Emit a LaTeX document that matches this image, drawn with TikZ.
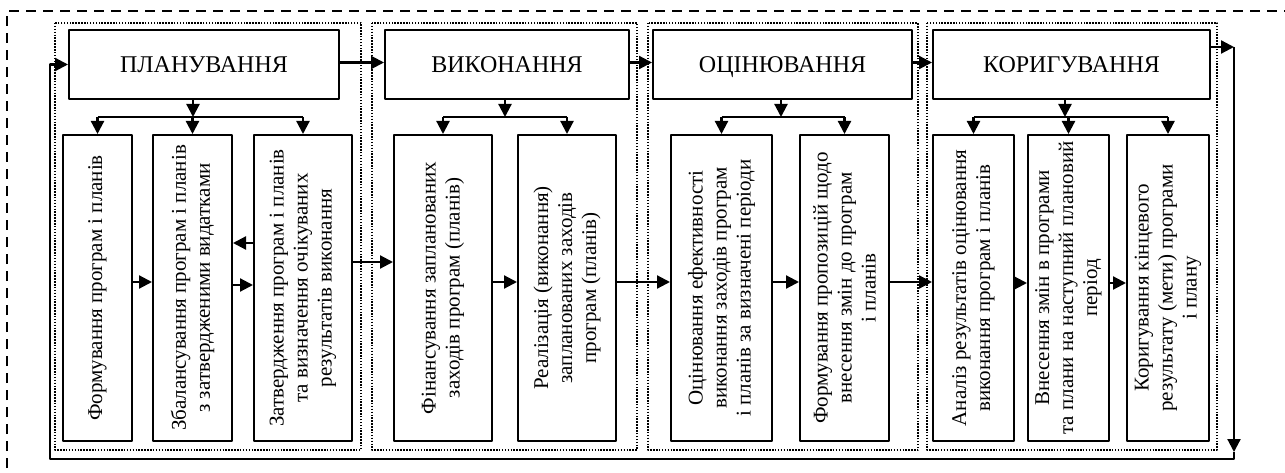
\documentclass[tikz,border=0pt]{standalone}
\usepackage{fontspec}
\setmainfont{Liberation Serif}
\usetikzlibrary{arrows.meta}
\begin{document}
\begin{tikzpicture}[x=1pt, y=-1pt, line join=round, >={Triangle[length=13pt,width=13pt]},
	head/.style={draw, line width=2pt, minimum height=69pt, inner sep=0pt, text height=17pt, text depth=0pt, font=\fontsize{24}{28}\selectfont},
	sub/.style={draw, line width=2pt, minimum height=306pt, inner sep=0pt},
	subtext/.style={rotate=90, align=center, inner sep=0pt, font=\fontsize{21}{24}\selectfont},
	grp/.style={line width=1.6pt, dash pattern=on 1.5pt off 1.4pt},
	arr/.style={->, line width=2.2pt}]
	\useasboundingbox (0,0) rectangle (1285,473);
	% outer frame and stage groups
	\draw[line width=1.8pt, dash pattern=on 10pt off 7pt] (7,468) -- (7,11) -- (1285,11);
	\foreach \l/\r in {55/361, 372/637, 648/918, 927/1217} \draw[grp] (\l,23) rectangle (\r,450);
	% stages
	\node[head, minimum width=270pt] (plan) at (204,64.5) {ПЛАНУВАННЯ};
	\node[head, minimum width=244pt] (vyk) at (507,64.5) {ВИКОНАННЯ};
	\node[head, minimum width=259pt] (ots) at (782.5,64.5) {ОЦІНЮВАННЯ};
	\node[head, minimum width=277pt] (kor) at (1071.5,64.5) {КОРИГУВАННЯ};
	% steps
	\foreach \n/\x/\w in {a1/97.5/69, a2/192.5/79, a3/303/98, b1/443/98, b2/567/98,
		c1/721.5/101, c2/844.5/89, d1/973.5/81, d2/1068.5/81, d3/1168/82}
		\node[sub, minimum width=\w pt] (\n) at (\x,288) {};
	\node[subtext] at (a1) {Формування програм і планів};
	\node[subtext] at (a2) {Збалансування програм і планів\\з затвердженими видатками};
	\node[subtext] at (a3) {Затвердження програм і планів\\та визначення очікуваних\\результатів виконання};
	\node[subtext] at (b1) {Фінансування запланованих\\заходів програм (планів)};
	\node[subtext] at (b2) {Реалізація (виконання)\\запланованих заходів\\програм (планів)};
	\node[subtext] at (c1) {Оцінювання ефективності\\виконання заходів програм\\і планів за визначені періоди};
	\node[subtext] at (c2) {Формування пропозицій щодо\\внесення змін до програм\\і планів};
	\node[subtext] at (d1) {Аналіз результатів оцінювання\\виконання програм і планів};
	\node[subtext] at (d2) {Внесення змін в програми\\та плани на наступний плановий\\період};
	\node[subtext] at (d3) {Коригування кінцевого\\результату (мети) програми\\і плану};
	% distribution from each stage
	\coordinate (busA) at (193,117);
	\coordinate (busB) at (505,117);
	\coordinate (busC) at (781,117);
	\coordinate (busD) at (1065,117);
	\foreach \h/\b/\f/\t in {plan/busA/a1/a3, vyk/busB/b1/b2, ots/busC/c1/c2, kor/busD/d1/d3}{
		\draw[arr] (\h.south -| \b) -- (\b);
		\draw[line width=2.2pt] (\f |- \b) -- (\t |- \b);
	}
	\foreach \n/\b in {a1/busA, a2/busA, a3/busA, b1/busB, b2/busB, c1/busC, c2/busC, d1/busD, d2/busD, d3/busD}
		\draw[arr] (\n |- \b) -- (\n.north);
	% links between stages and steps
	\foreach \s/\t in {plan/vyk, vyk/ots, ots/kor}
		\draw[arr] ([yshift=2pt]\s.east) -- ([yshift=2pt]\t.west);
	\foreach \s/\t/\h in {a1/a2/6, a2/a3/3, a3/b1/26, b1/b2/6, b2/c1/6, c1/c2/6, c2/d1/6, d1/d2/5, d2/d3/5}
		\draw[arr] ([yshift=\h pt]\s.east) -- ([yshift=\h pt]\t.west);
	\draw[arr] ([yshift=45pt]a3.west) -- ([yshift=45pt]a2.east);
	% feedback loop
	\coordinate (loopTR) at (1234,47);
	\coordinate (loopDn) at (1234,452);
	\coordinate (loopBR) at (1234,459);
	\coordinate (loopBL) at (50,459);
	\draw[arr] ([yshift=17.5pt]kor.east) -- (loopTR);
	\draw[arr] (loopTR) -- (loopDn);
	\draw[arr] (loopDn) -- (loopBR) -- (loopBL) -- (loopBL |- plan.west) -- (plan.west);
\end{tikzpicture}
\end{document}
